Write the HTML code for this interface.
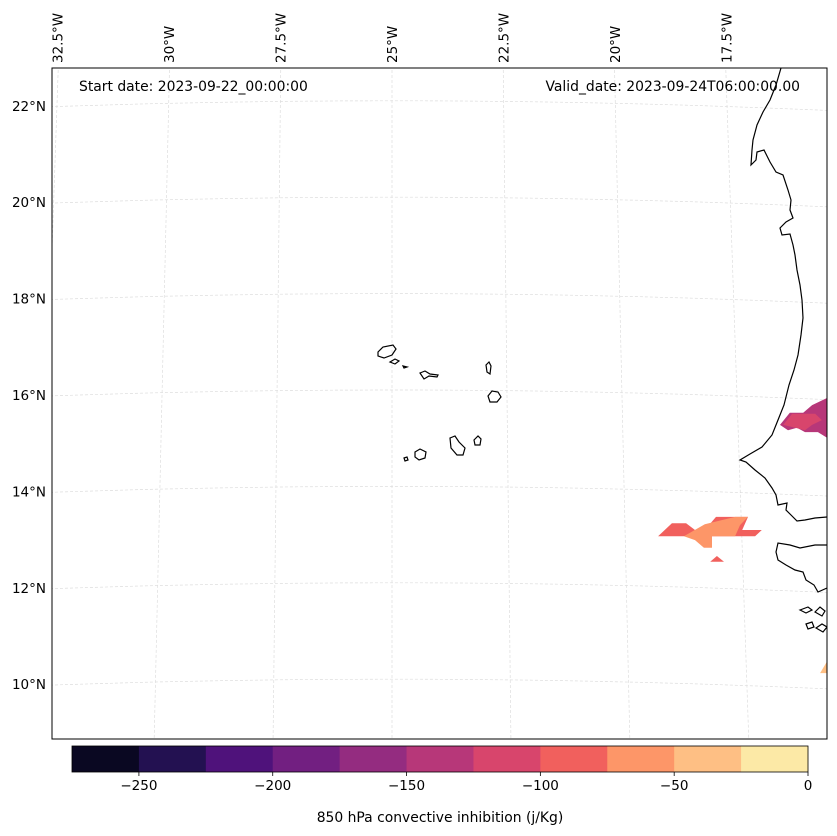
<!DOCTYPE html>
<html><head><meta charset="utf-8">
<style>
html,body{margin:0;padding:0;background:#fff;}
svg{display:block;font-family:"DejaVu Sans","Liberation Sans",sans-serif;}
</style></head>
<body>
<svg id="chart" width="837" height="836" viewBox="0 0 837 836" xmlns="http://www.w3.org/2000/svg">
  <defs><clipPath id="clip"><rect x="52" y="68" width="775" height="671"/></clipPath></defs>
  <rect x="0" y="0" width="837" height="836" fill="#fff"/>
  <g id="grid" clip-path="url(#clip)"></g>
  <g id="fills" clip-path="url(#clip)"></g>
  <g id="coast" clip-path="url(#clip)" fill="none" stroke="#000" stroke-width="1.2">
    <path d="M781,68 L776,85 L770,100 L763,112 L757,125 L753,140 L752,150 L751,165 L756,160 L757,152 L764,150 L770,162 L776,172 L783,175 L788,190 L791,200 L790,210 L793,218 L786,222 L780,228 L782,235 L790,234 L793,245 L795,255 L797,270 L800,285 L802,300 L803,318 L801,335 L798,355 L794,370 L789,385 L784,405 L778,420 L772,435 L762,447 L750,454 L740,460 L746,462 L755,470 L765,478 L772,488 L776,495 L778,505 L787,503 L786,510 L792,516 L797,521 L805,520 L815,518 L827,517"/>
    <path d="M827,545 L815,545 L800,548 L790,545 L778,543 L776,552 L778,560 L786,565 L795,570 L803,572 L806,580 L814,585 L818,592 L827,588"/>
    <path d="M800,610 l8,-3 l4,3 l-6,3 z"/>
    <path d="M815,612 l5,-5 l5,4 l-3,5 z"/>
    <path d="M806,624 l6,-2 l2,5 l-6,2 z"/>
    <path d="M816,628 l6,-4 l5,3 l-4,5 z"/>
    <path d="M378,352 l5,-5 l10,-2 l3,4 l-4,6 l-8,3 l-6,-2 z"/>
    <path d="M390,362 l5,-3 l4,2 l-4,3 z"/>
    <path d="M403,366 l4,1 l-3,1 z"/>
    <path d="M420,373 l5,-2 l5,3 l8,1 l-1,2 l-8,-1 l-5,3 z"/>
    <path d="M486,365 l3,-3 l2,4 l-1,8 l-3,-2 z"/>
    <path d="M488,396 l4,-5 l6,1 l3,5 l-4,5 l-7,0 z"/>
    <path d="M474,440 l4,-4 l3,3 l-1,6 l-5,0 z"/>
    <path d="M450,438 l5,-2 l4,6 l6,6 l-2,7 l-6,0 l-6,-7 z"/>
    <path d="M415,452 l5,-3 l6,3 l-1,6 l-6,2 l-4,-3 z"/>
    <path d="M404,458 l3,-1 l1,3 l-3,1 z"/>
  </g>
  <rect x="52" y="68" width="775" height="671" fill="none" stroke="#000" stroke-width="1"/>
  <g id="latlabels" font-size="13.5" fill="#000" text-anchor="end"></g>
  <g id="lonlabels" font-size="13.5" fill="#000"></g>
  <text x="79" y="91" font-size="13.9">Start date: 2023-09-22_00:00:00</text>
  <text x="800" y="91" font-size="13.9" text-anchor="end">Valid_date: 2023-09-24T06:00:00.00</text>
  <g id="cbar"></g>
  <text x="440" y="822" font-size="13.9" text-anchor="middle">850 hPa convective inhibition (j/Kg)</text>
</svg>
<script>
// ---- data ----
const levels = [-275,-250,-225,-200,-175,-150,-125,-100,-75,-50,-25,0];
const levelColors = ['#0a0822','#231151','#4f127b','#721f81','#942c80','#b73779','#d8456c','#f1605d','#fd9668','#febf84','#fce9a6'];
const cbarTicks = [-250,-200,-150,-100,-50,0];
const latTicks = [10,12,14,16,18,20,22];
const lonTicks = [-32.5,-30,-27.5,-25,-22.5,-20,-17.5];
// contour polygons: value (j/Kg), lons, lats
const blobValues = [-140, -110, -90, -60, -90, -40];
const blobLons = [
  [-16.28,-16.06,-15.76,-15.56,-15.22,-15.22,-15.43,-15.72,-15.90,-16.10],
  [-16.21,-16.01,-15.49,-15.34,-15.56,-15.72,-15.94],
  [-19.02,-18.71,-18.39,-18.19,-17.97,-17.72,-17.00,-17.13,-16.69,-16.84],
  [-18.44,-17.97,-17.29,-17.00,-17.18,-17.29,-17.81,-17.81,-17.99,-18.19],
  [-17.85,-17.70,-17.54],
  [-15.38,-15.22,-15.22]
];
const blobLats = [
  [15.38,15.63,15.63,15.79,15.94,15.11,15.23,15.23,15.32,15.27],
  [15.38,15.61,15.61,15.48,15.38,15.27,15.32],
  [13.07,13.34,13.34,13.20,13.20,13.47,13.47,13.20,13.20,13.07],
  [13.07,13.32,13.47,13.47,13.30,13.07,13.07,12.83,12.83,12.99],
  [12.54,12.66,12.54],
  [10.23,10.48,10.23]
];
// ---- axes ----
const NS='http://www.w3.org/2000/svg';
function xOf(lon){return 392+(lon+25)*44.5;}
function yOf(lat){return 395-(lat-16)*48.2;}
function gx(lon,y){return xOf(lon)+(lon+25)*0.00457*(y-68);}
function gy(lat,x){const t=(x-392)/420;return yOf(lat)-9*(1-t*t)+4;}
function colorFor(v){for(let i=0;i<levelColors.length;i++){if(v>=levels[i]&&v<levels[i+1])return levelColors[i];}return levelColors[levelColors.length-1];}
function mk(tag,attrs,parent){const e=document.createElementNS(NS,tag);for(const k in attrs)e.setAttribute(k,attrs[k]);parent.appendChild(e);return e;}
const grid=document.getElementById('grid');
latTicks.forEach(lat=>{
  let d='';for(let x=40;x<=840;x+=20){d+=(x===40?'M':'L')+x+','+gy(lat,x).toFixed(1)+' ';}
  const p=mk('path',{d:d,fill:'none',stroke:'#ddd','stroke-width':0.7,'stroke-dasharray':'3,2'},grid);
  
  
});
lonTicks.concat([-15]).forEach(lon=>{
  const p=mk('line',{x1:gx(lon,60),y1:60,x2:gx(lon,745),y2:745,stroke:'#ddd','stroke-width':0.7,'stroke-dasharray':'3,2'},grid);
  
  
});
const latG=document.getElementById('latlabels');
latTicks.forEach(lat=>{
  const t=mk('text',{x:46,y:yOf(lat)+5},latG);t.textContent=lat+'°N';
  
  
});
const lonG=document.getElementById('lonlabels');
lonTicks.forEach(lon=>{
  const x=xOf(lon)+(lon+25)*0.11+5;
  const t=mk('text',{x:0,y:0,transform:'translate('+x.toFixed(1)+',63) rotate(-90)'},lonG);
  t.textContent=Math.abs(lon)+'°W';
  
  
});
const fills=document.getElementById('fills');
blobValues.forEach((v,i)=>{
  const pts=blobLons[i].map((lo,j)=>xOf(lo).toFixed(1)+','+yOf(blobLats[i][j]).toFixed(1)).join(' ');
  const p=mk('polygon',{points:pts,fill:colorFor(v)},fills);
  
  
});
// colorbar
const cb=document.getElementById('cbar');
const cx0=72,cx1=808,cy=746,ch=26;
function cbX(v){return cx0+(v-levels[0])/(levels[levels.length-1]-levels[0])*(cx1-cx0);}
levelColors.forEach((c,i)=>{
  const r=mk('rect',{x:cbX(levels[i]),y:cy,width:cbX(levels[i+1])-cbX(levels[i])+0.5,height:ch,fill:c},cb);
  
  
});
const fr=mk('rect',{x:cx0,y:cy,width:cx1-cx0,height:ch,fill:'none',stroke:'#000','stroke-width':0.8},cb);


cbarTicks.forEach(v=>{
  const l=mk('line',{x1:cbX(v),y1:cy+ch,x2:cbX(v),y2:cy+ch+4,stroke:'#000','stroke-width':0.8},cb);
  
  
  const t=mk('text',{x:cbX(v),y:cy+ch+18,'font-size':13.5,'text-anchor':'middle'},cb);
  t.textContent=v<0?'\u2212'+Math.abs(v):String(v);
  
  
});
</script>
</body></html>
